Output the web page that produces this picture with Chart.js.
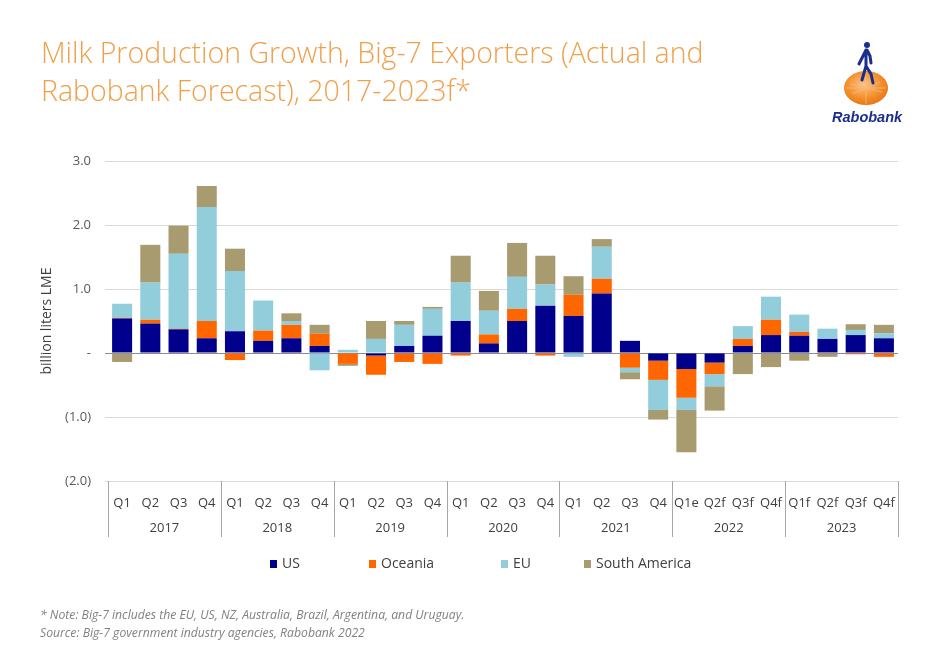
<!DOCTYPE html>
<html>
<head>
<meta charset="utf-8">
<script src="https://cdn.jsdelivr.net/npm/chart.js@4.4.1/dist/chart.umd.min.js"></script>
<style>
  html, body { margin: 0; padding: 0; background: #ffffff; }
  #wrap { position: relative; width: 943px; height: 657px; overflow: hidden; font-family: "Open Sans", sans-serif; }
  #c { position: absolute; left: 0; top: 0; }
  .title { position: absolute; left: 41px; top: 33px; font-size: 28.5px; font-weight: 300; color: #F0A04B; line-height: 38px; white-space: nowrap; }
  .legend { position: absolute; top: 553px; font-size: 14px; color: #404040; white-space: nowrap; }
  .legend span.box { display: inline-block; width: 7px; height: 8px; margin-right: 5px; vertical-align: 0px; }
  .note { position: absolute; left: 40px; font-size: 12.2px; letter-spacing: 0px; font-style: italic; color: #808080; white-space: nowrap; }
  .logo { position: absolute; left: 800px; top: 30px; }
</style>
</head>
<body>
<div id="wrap">
  <canvas id="c" width="943" height="657"></canvas>
  <div class="title">Milk Production Growth, Big-7 Exporters (Actual and<br>Rabobank Forecast), 2017-2023f*</div>
  <svg class="logo" width="120" height="100" viewBox="800 30 120 100">
    <defs>
      <radialGradient id="g" cx="0.45" cy="0.4" r="0.7">
        <stop offset="0" stop-color="#FBC58A"/>
        <stop offset="0.6" stop-color="#F28C28"/>
        <stop offset="1" stop-color="#E07010"/>
      </radialGradient>
    </defs>
    <ellipse cx="866" cy="88" rx="22" ry="17" fill="url(#g)"/>
    <path d="M850 84 L882 92 M852 94 L880 82 M866 72 L866 104 M846 88 L886 88" stroke="#F9B878" stroke-width="0.8" fill="none"/>
    <circle cx="867" cy="45" r="3" fill="#1B2E8A"/>
    <path d="M866 50 L863 56 L859 64 M867 50 L870 56 L871 63 M866 50 L866 66 L862 80 M866 66 L871 74 L873 83" stroke="#1B2E8A" stroke-width="3" stroke-linecap="round" stroke-linejoin="round" fill="none"/>
    <text x="832" y="122" font-family="Liberation Sans, Arial, sans-serif" font-size="14.5" font-weight="bold" font-style="italic" fill="#1B2E8A">Rabobank</text>
  </svg>
  <div class="legend" style="left:270px"><span class="box" style="background:#00008C"></span>US</div>
  <div class="legend" style="left:369px"><span class="box" style="background:#FF6600"></span>Oceania</div>
  <div class="legend" style="left:501px"><span class="box" style="background:#92CDDC"></span>EU</div>
  <div class="legend" style="left:584px"><span class="box" style="background:#A89B70"></span>South America</div>
  <div class="note" style="top:606px">* Note: Big-7 includes the EU, US, NZ, Australia, Brazil, Argentina, and Uruguay.</div>
  <div class="note" style="top:624px">Source: Big-7 government industry agencies, Rabobank 2022</div>
</div>
<script>
// ---- data ----
const quarters = ['Q1','Q2','Q3','Q4','Q1','Q2','Q3','Q4','Q1','Q2','Q3','Q4','Q1','Q2','Q3','Q4','Q1','Q2','Q3','Q4','Q1e','Q2f','Q3f','Q4f','Q1f','Q2f','Q3f','Q4f'];
const years = ['2017','2018','2019','2020','2021','2022','2023'];
const usValues = [0.54, 0.46, 0.37, 0.23, 0.34, 0.19, 0.23, 0.11, 0.00, -0.04, 0.11, 0.27, 0.50, 0.15, 0.50, 0.74, 0.58, 0.93, 0.19, -0.12, -0.25, -0.15, 0.11, 0.28, 0.27, 0.22, 0.28, 0.23];
const oceaniaValues = [0.01, 0.06, 0.01, 0.27, -0.11, 0.16, 0.21, 0.19, -0.17, -0.30, -0.14, -0.17, -0.04, 0.14, 0.19, -0.04, 0.33, 0.23, -0.23, -0.30, -0.45, -0.18, 0.11, 0.24, 0.06, -0.01, -0.02, -0.06];
const euValues = [0.22, 0.58, 1.17, 1.78, 0.94, 0.47, 0.06, -0.27, 0.05, 0.22, 0.33, 0.42, 0.60, 0.37, 0.50, 0.33, -0.06, 0.50, -0.07, -0.47, -0.19, -0.19, 0.20, 0.36, 0.27, 0.16, 0.08, 0.08];
const southAmericaValues = [-0.14, 0.59, 0.44, 0.33, 0.35, 0.00, 0.12, 0.14, -0.03, 0.28, 0.06, 0.03, 0.42, 0.31, 0.53, 0.45, 0.29, 0.12, -0.11, -0.15, -0.66, -0.38, -0.33, -0.22, -0.12, -0.05, 0.09, 0.13];
const seriesNames = ['US', 'Oceania', 'EU', 'South America'];
const yTickValues = [3, 2, 1, 0, -1, -2];

const colors = ['#00008C', '#FF6600', '#92CDDC', '#A89B70'];
const FONT = '"Open Sans", sans-serif';

const groupPlugin = {
  id: 'groupPlugin',
  afterDraw(chart) {
    const x = chart.scales.x;
    const ctx = chart.ctx;
    const n = quarters.length;
    const w = (x.getPixelForValue(n - 1) - x.getPixelForValue(0)) / (n - 1);
    const top = chart.chartArea.bottom;
    const bottom = top + 56;
    ctx.save();
    ctx.strokeStyle = '#A6A6A6';
    ctx.lineWidth = 1;
    for (let g = 0; g <= years.length; g++) {
      const px = Math.round(x.getPixelForValue(g * 4) - w / 2) + 0.5;
      ctx.beginPath();
      ctx.moveTo(px, top);
      ctx.lineTo(px, bottom);
      ctx.stroke();
    }
    ctx.fillStyle = '#404040';
    ctx.font = '13px ' + FONT;
    ctx.textAlign = 'center';
    ctx.textBaseline = 'middle';
    years.forEach((yr, g) => {
      const cx = (x.getPixelForValue(g * 4) + x.getPixelForValue(g * 4 + 3)) / 2;
      ctx.fillText(yr, cx, top + 47);
    });
    ctx.restore();
  }
};

new Chart(document.getElementById('c'), {
  type: 'bar',
  data: {
    labels: quarters,
    datasets: [usValues, oceaniaValues, euValues, southAmericaValues].map((vals, i) => ({
      label: seriesNames[i],
      data: vals,
      backgroundColor: colors[i],
      borderWidth: 0,
      barPercentage: 0.71,
      categoryPercentage: 1.0
    }))
  },
  options: {
    responsive: false,
    animation: false,
    layout: { padding: { left: 0, right: 45, top: 161, bottom: 120 } },
    plugins: { legend: { display: false }, tooltip: { enabled: false } },
    scales: {
      x: {
        stacked: true,
        grid: { display: false },
        border: { display: false },
        ticks: { autoSkip: false, maxRotation: 0, minRotation: 0, padding: 6, color: '#404040', font: { family: FONT, size: 13 } },
        afterFit(scale) { scale.height = 56; }
      },
      y: {
        stacked: true,
        min: -2, max: 3,
        afterBuildTicks(scale) { scale.ticks = yTickValues.map(v => ({ value: v })); },
        ticks: {
          padding: 14,
          color: '#595959',
          font: { family: FONT, size: 13 },
          callback(v) {
            if (v === 0) return '-';
            if (v < 0) return '(' + Math.abs(v).toFixed(1) + ')';
            return v.toFixed(1);
          }
        },
        grid: {
          color(ctx) { return ctx.tick && ctx.tick.value === 0 ? '#8C8C8C' : '#D9D9D9'; },
          tickLength: 3,
          drawTicks: true
        },
        border: { display: false },
        title: { display: true, text: 'billion liters LME', color: '#404040', font: { family: FONT, size: 14 }, padding: { top: 39, bottom: 0 } },
        afterFit(scale) { scale.width = 108; }
      }
    }
  },
  plugins: [groupPlugin]
});
</script>
</body>
</html>
